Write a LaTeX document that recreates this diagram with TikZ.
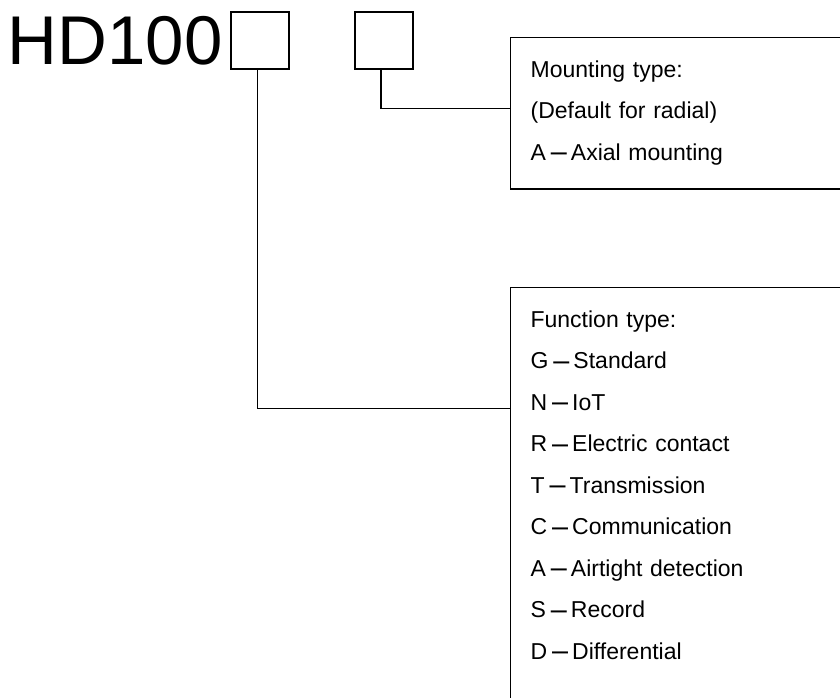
\documentclass[tikz,border=0pt]{standalone}
\usepackage{fontspec}
\setmainfont{Liberation Sans}
\usetikzlibrary{positioning}
\tikzstyle{slot} = [rectangle, draw=black, line width=2pt, minimum width=58pt, minimum height=57pt, inner sep=0pt]
\tikzstyle{infobox} = [rectangle, draw=black, line width=1.2pt, text width=330pt, align=left, inner xsep=20pt, inner ysep=23pt, font=\fontsize{23}{41.5}\selectfont]
\tikzstyle{link} = [line width=1.2pt]
\newcommand{\sep}{\hspace{5pt}\raisebox{-1.5pt}{\scalebox{1.25}[1.3]{–}}\hspace{4pt}}

\begin{document}
\begin{tikzpicture}[x=1pt, y=-1pt]
      \clip (0,0) rectangle (840,697);

      \node (code) [anchor=base west, inner sep=0pt, font=\fontsize{69}{69}\selectfont] at (7.5,64) {HD100};
      \node (slotA) [slot] at (260,40.5) {};
      \node (slotB) [slot, right=64pt of slotA] {};
      \node (mount) [infobox, anchor=base west, text depth=89pt] at (510,77) {Mounting type:\\(Default for radial)\\A\sep Axial mounting};
      \node (func) [infobox, anchor=base west, text depth=420pt] at (510,327) {Function type:\\G\sep Standard\\N\sep IoT\\R\sep Electric contact\\T\sep Transmission\\C\sep Communication\\A\sep Airtight detection\\S\sep Record\\D\sep Differential};

      % Lines
      \draw [link] ([xshift=-3pt]slotB.south) |- ([yshift=-72pt]mount.north west);
      \draw [link] ([xshift=-2.5pt]slotA.south) |- ([yshift=-122pt]func.north west);

\end{tikzpicture}
\end{document}
